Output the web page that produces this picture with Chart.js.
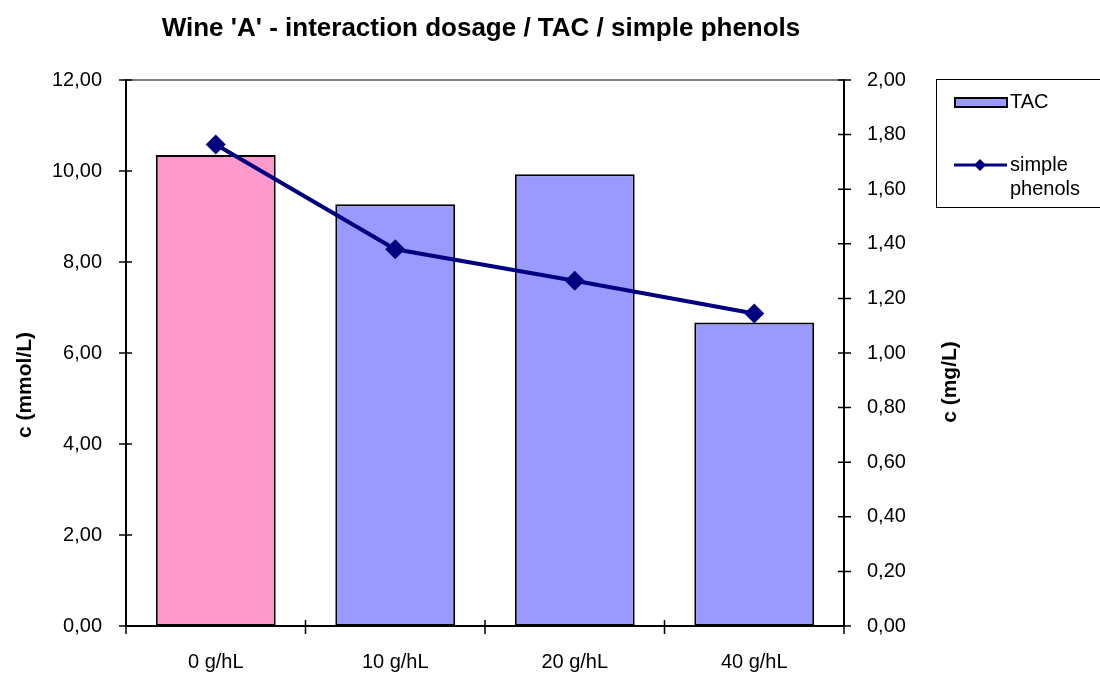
<!DOCTYPE html>
<html>
<head>
<meta charset="utf-8">
<title>Wine 'A' - interaction dosage / TAC / simple phenols</title>
<script src="https://cdn.jsdelivr.net/npm/chart.js@4/dist/chart.umd.min.js"></script>
<style>
    html, body { margin: 0; padding: 0; background: #ffffff; }
    #wrap { width: 1100px; height: 675px; }
</style>
</head>
<body>
<div id="wrap"><canvas id="chart" width="1100" height="675"></canvas></div>
<script>
const chartTitle = "Wine 'A' - interaction dosage / TAC / simple phenols";
const dosages = ['0 g/hL', '10 g/hL', '20 g/hL', '40 g/hL'];
const tacValues = [10.35, 9.27, 9.93, 6.67];        // mmol/L, left axis
const phenolValues = [1.764, 1.380, 1.265, 1.145];  // mg/L, right axis
const leftTitle = 'c (mmol/L)';
const rightTitle = 'c (mg/L)';

const FONT = "'Liberation Sans', Arial, sans-serif";
const tacColor = '#9999FF';
const controlColor = '#FF99CC';
const phenolColor = '#000080';

function commaFormat(v) {
    return v.toFixed(2).replace('.', ',');
}

// title, axis titles, crossing tick marks, plot border and legend box
const decorations = {
    id: 'decorations',
    beforeDatasetsDraw(chart) {
        const ctx = chart.ctx;
        const area = chart.chartArea;
        ctx.save();
        // grey top border of the plot area
        ctx.strokeStyle = '#808080';
        ctx.lineWidth = 2;
        ctx.beginPath();
        ctx.moveTo(area.left, area.top);
        ctx.lineTo(area.right, area.top);
        ctx.stroke();
        ctx.restore();
    },
    afterDraw(chart) {
        const ctx = chart.ctx;
        const area = chart.chartArea;
        const {x, y, y2} = chart.scales;
        ctx.save();

        ctx.fillStyle = '#000';
        ctx.textAlign = 'center';
        ctx.textBaseline = 'middle';
        ctx.font = 'bold 26px ' + FONT;
        ctx.fillText(chartTitle, 481, 29);

        ctx.font = 'bold 21px ' + FONT;
        ctx.save();
        ctx.translate(25, 385);
        ctx.rotate(-Math.PI / 2);
        ctx.fillText(leftTitle, 0, 0);
        ctx.restore();
        ctx.save();
        ctx.translate(950, 382);
        ctx.rotate(-Math.PI / 2);
        ctx.fillText(rightTitle, 0, 0);
        ctx.restore();

        // tick marks cross the axis lines
        ctx.strokeStyle = '#000';
        ctx.lineWidth = 1.5;
        ctx.beginPath();
        y.ticks.forEach((t, i) => {
            const py = y.getPixelForTick(i);
            ctx.moveTo(area.left - 7, py);
            ctx.lineTo(area.left + 6, py);
        });
        y2.ticks.forEach((t, i) => {
            const py = y2.getPixelForTick(i);
            ctx.moveTo(area.right - 6, py);
            ctx.lineTo(area.right + 7, py);
        });
        for (let i = 0; i <= dosages.length; i++) {
            const px = x.getPixelForValue(i - 0.5);
            ctx.moveTo(px, area.bottom - 6);
            ctx.lineTo(px, area.bottom + 8);
        }
        ctx.stroke();

        // legend
        const box = {left: 936, top: 79, right: 1106, bottom: 207};
        ctx.strokeStyle = '#000';
        ctx.lineWidth = 1;
        ctx.strokeRect(box.left + 0.5, box.top + 0.5, box.right - box.left, box.bottom - box.top);

        ctx.font = '20px ' + FONT;
        ctx.textAlign = 'left';
        const ds = chart.data.datasets;
        const bars = ds.find(d => d.type === 'bar');
        const line = ds.find(d => d.type === 'line');

        ctx.fillStyle = tacColor;
        ctx.fillRect(955, 98, 52, 9);
        ctx.strokeStyle = '#000';
        ctx.lineWidth = 2;
        ctx.strokeRect(955, 98, 52, 9);
        ctx.fillStyle = '#000';
        ctx.fillText(bars.label, 1010, 102);

        ctx.strokeStyle = line.borderColor;
        ctx.lineWidth = 3;
        ctx.beginPath();
        ctx.moveTo(954, 165);
        ctx.lineTo(1007, 165);
        ctx.stroke();
        ctx.fillStyle = line.borderColor;
        ctx.beginPath();
        ctx.moveTo(980, 159);
        ctx.lineTo(986, 165);
        ctx.lineTo(980, 171);
        ctx.lineTo(974, 165);
        ctx.closePath();
        ctx.fill();

        ctx.fillStyle = '#000';
        const words = line.label.split(' ');
        let rows = [];
        let cur = '';
        words.forEach(w => {
            const test = cur ? cur + ' ' + w : w;
            if (cur && ctx.measureText(test).width > 86) {
                rows.push(cur);
                cur = w;
            } else {
                cur = test;
            }
        });
        rows.push(cur);
        rows.forEach((r, i) => ctx.fillText(r, 1010, 165 + i * 24));

        ctx.restore();
    }
};

new Chart(document.getElementById('chart'), {
    data: {
        labels: dosages,
        datasets: [
            {
                type: 'line',
                label: 'simple phenols',
                data: phenolValues,
                yAxisID: 'y2',
                borderColor: phenolColor,
                backgroundColor: phenolColor,
                borderWidth: 4,
                pointStyle: 'rectRot',
                pointRadius: 10,
                pointBorderWidth: 0,
                pointBackgroundColor: phenolColor,
                tension: 0,
                order: 0
            },
            {
                type: 'bar',
                label: 'TAC',
                data: tacValues,
                yAxisID: 'y',
                backgroundColor: tacValues.map((v, i) => i === 0 ? controlColor : tacColor),
                borderColor: '#000',
                borderWidth: 2,
                borderSkipped: false,
                categoryPercentage: 1,
                barPercentage: 0.668,
                order: 1
            }
        ]
    },
    options: {
        responsive: false,
        animation: false,
        layout: { padding: { top: 80, left: 0, right: 0, bottom: 0 } },
        plugins: {
            legend: { display: false },
            title: { display: false },
            tooltip: { enabled: false }
        },
        scales: {
            x: {
                offset: true,
                grid: { display: false, drawTicks: false },
                border: { display: true, color: '#000', width: 2 },
                ticks: {
                    padding: 24,
                    color: '#000',
                    font: { family: FONT, size: 20 }
                },
                afterFit(scale) { scale.height = 49; }
            },
            y: {
                position: 'left',
                min: 0,
                max: 12,
                grid: { display: false, drawTicks: false },
                border: { display: true, color: '#000', width: 2 },
                ticks: {
                    stepSize: 2,
                    padding: 24,
                    color: '#000',
                    font: { family: FONT, size: 20 },
                    callback: v => commaFormat(v)
                },
                afterFit(scale) { scale.width = 126; }
            },
            y2: {
                position: 'right',
                min: 0,
                max: 2,
                grid: { display: false, drawTicks: false },
                border: { display: true, color: '#000', width: 2 },
                ticks: {
                    stepSize: 0.2,
                    padding: 23,
                    color: '#000',
                    font: { family: FONT, size: 20 },
                    callback: v => commaFormat(v)
                },
                afterFit(scale) { scale.width = 256; }
            }
        }
    },
    plugins: [decorations]
});
</script>
</body>
</html>
